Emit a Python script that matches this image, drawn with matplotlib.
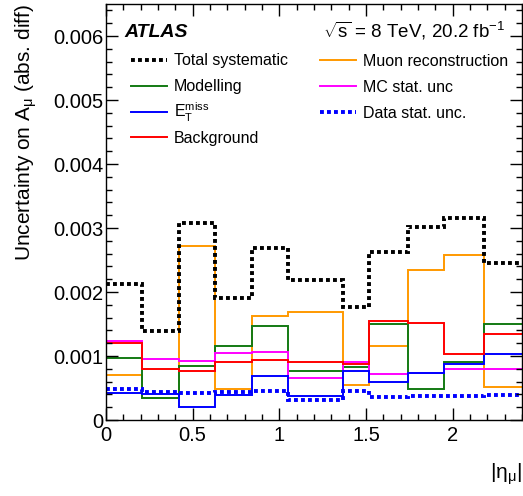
import numpy as np
import matplotlib
matplotlib.use("Agg")
import matplotlib.pyplot as plt
from matplotlib.ticker import MultipleLocator, FuncFormatter

plt.rcParams['font.family'] = ['Liberation Sans', 'DejaVu Sans']
plt.rcParams['mathtext.fontset'] = 'custom'
plt.rcParams['mathtext.rm'] = 'Liberation Sans'
plt.rcParams['mathtext.it'] = 'Liberation Sans:italic'

# bin edges in |eta_mu|
edges = [0, 0.21, 0.42, 0.63, 0.84, 1.05, 1.37, 1.52, 1.74, 1.95, 2.18, 2.4]

# uncertainties (abs. diff)
total_syst = [0.00212, 0.00139, 0.00308, 0.00191, 0.00268, 0.00219, 0.00177, 0.00263, 0.00301, 0.00315, 0.00245]
muon_reco  = [0.00071, 0.00034, 0.00272, 0.00048, 0.00163, 0.00168, 0.00055, 0.00116, 0.00234, 0.00258, 0.00051]
modelling  = [0.00097, 0.00034, 0.00084, 0.00116, 0.00147, 0.00077, 0.00083, 0.00150, 0.00049, 0.00091, 0.00150]
mc_stat    = [0.00123, 0.00095, 0.00092, 0.00105, 0.00107, 0.00066, 0.00090, 0.00072, 0.00074, 0.00079, 0.00079]
background = [0.00120, 0.00079, 0.00076, 0.00090, 0.00093, 0.00091, 0.00087, 0.00154, 0.00151, 0.00103, 0.00135]
etmiss     = [0.00042, 0.00041, 0.00021, 0.00039, 0.00068, 0.00038, 0.00077, 0.00060, 0.00074, 0.00087, 0.00103]
data_stat  = [0.00048, 0.00043, 0.00042, 0.00044, 0.00045, 0.00031, 0.00045, 0.00036, 0.00038, 0.00038, 0.00039]

fig = plt.figure(figsize=(5.23, 4.96), dpi=100)
ax = fig.add_axes([106/523, 76/496, 416/523, 416/496])

dots = (0, (1, 0.8))
lw = 1.4
h_muon = ax.stairs(muon_reco, edges, baseline=None, color='#ff9900', lw=lw, label='Muon reconstruction')
h_mod = ax.stairs(modelling, edges, baseline=None, color='#137a13', lw=lw, label='Modelling')
h_mc = ax.stairs(mc_stat, edges, baseline=None, color='#ff00ff', lw=lw, label='MC stat. unc')
h_et = ax.stairs(etmiss, edges, baseline=None, color='#0000ff', lw=lw,
                 label=r'E$_\mathrm{T}^\mathrm{miss}$')
h_bkg = ax.stairs(background, edges, baseline=None, color='#ff0000', lw=lw, label='Background')
h_data = ax.stairs(data_stat, edges, baseline=None, color='#0000ff', lw=2.8,
                   linestyle=dots, label='Data stat. unc.')
h_tot = ax.stairs(total_syst, edges, baseline=None, color='black', lw=2.8,
                  linestyle=dots, label='Total systematic')

ax.set_xlim(0, 2.4)
ax.set_ylim(0, 0.0065)

ax.xaxis.set_major_locator(MultipleLocator(0.5))
ax.xaxis.set_minor_locator(MultipleLocator(0.1))
ax.yaxis.set_major_locator(MultipleLocator(0.001))
ax.yaxis.set_minor_locator(MultipleLocator(0.0002))
ax.xaxis.set_major_formatter(FuncFormatter(lambda v, p: '0' if abs(v) < 1e-9 else '%g' % v))
ax.yaxis.set_major_formatter(FuncFormatter(lambda v, p: '0' if abs(v) < 1e-12 else '%.3f' % v))
ax.tick_params(which='both', direction='in', top=True, right=True, labelsize=14.5, width=1)
ax.tick_params(which='major', length=8.5)
ax.tick_params(axis='y', which='major', pad=2)
ax.tick_params(axis='x', which='major', pad=4)
ax.tick_params(which='minor', length=4.3)
for s in ax.spines.values():
    s.set_linewidth(1)

ax.set_ylabel(r'Uncertainty on A$_{\mathrm{μ}}$ (abs. diff)', fontsize=15, loc='top', labelpad=10)
ax.set_xlabel(r'|$\mathrm{η}_{\mathrm{μ}}$|', fontsize=15, loc='right', labelpad=12)

def ay(py):
    # pixel row -> axes fraction
    return (420 - py) / 416

def axx(px):
    return (px - 106) / 416

ax.text(axx(124), ay(37), 'ATLAS', transform=ax.transAxes, fontsize=14,
        fontweight='bold', style='italic', va='baseline')
ax.text(axx(505), ay(37), r'$\sqrt{\mathrm{s}}$ = 8 TeV, 20.2 fb$^{-1}$', transform=ax.transAxes,
        fontsize=13.5, va='baseline', ha='right')

# legend, two columns drawn by hand
col1 = [h_tot, h_mod, h_et, h_bkg]
col2 = [h_muon, h_mc, h_data]
rows = [60, 86, 112, 137]
for col, (x0, x1, xt) in ((col1, (131, 167, 174)), (col2, (320, 356, 363))):
    for h, py in zip(col, rows):
        ax.plot([axx(x0), axx(x1)], [ay(py), ay(py)], transform=ax.transAxes,
                color=h.get_edgecolor(), lw=h.get_linewidth(), linestyle=h.get_linestyle(),
                clip_on=False)
        ax.text(axx(xt), ay(py + 5.5), h.get_label(), transform=ax.transAxes,
                fontsize=11.5, va='baseline', ha='left')

fig.savefig('out.png', dpi=100)
